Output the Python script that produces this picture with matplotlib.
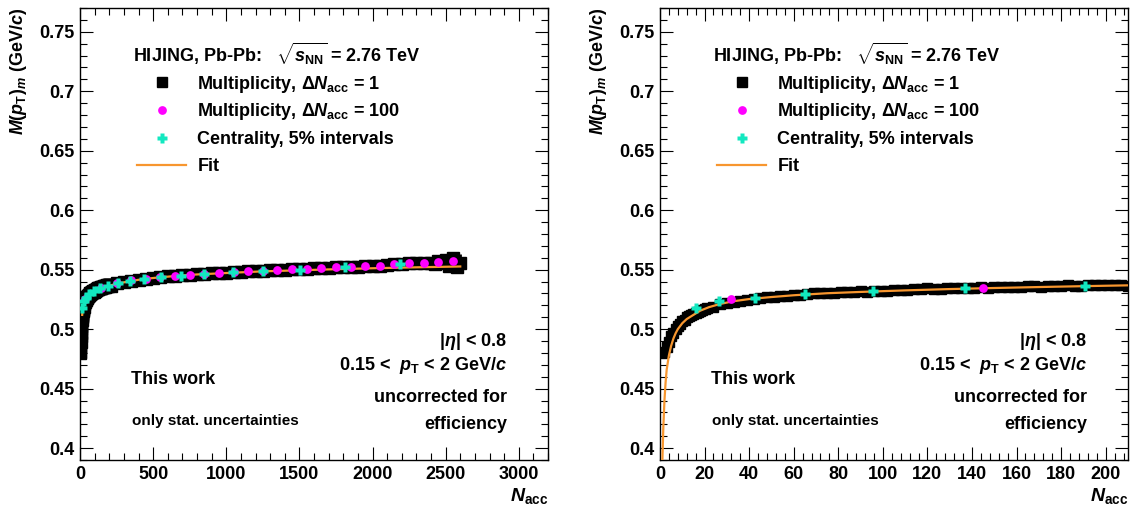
import numpy as np
import matplotlib
matplotlib.use("Agg")
import matplotlib.pyplot as plt
from matplotlib.ticker import MultipleLocator

plt.rcParams['font.family'] = ['Liberation Sans', 'DejaVu Sans']
plt.rcParams['font.weight'] = 'bold'
plt.rcParams['axes.labelweight'] = 'bold'
plt.rcParams['mathtext.fontset'] = 'custom'
plt.rcParams['mathtext.rm'] = 'Liberation Sans:bold'
plt.rcParams['mathtext.it'] = 'Liberation Sans:bold:italic'
plt.rcParams['mathtext.bf'] = 'Liberation Sans:bold'
plt.rcParams['mathtext.sf'] = 'Liberation Sans:bold'

# multiplicity classes, dN_acc = 1 (low N_acc, dense)
black_n = [1, 2, 3, 4, 5, 6, 7, 8, 9, 10, 11, 12, 13, 14, 15, 16, 17, 18, 19, 20,
           21, 24, 27, 30, 33, 36, 39, 42, 45, 48, 51, 54, 57, 60, 63, 66, 69, 72,
           75, 78, 81, 84, 87, 90, 93, 96, 99, 102, 105, 108, 111, 114, 117, 120,
           123, 126, 129, 132, 135, 138, 141, 144, 147, 150, 153, 156, 159, 162,
           165, 168, 171, 174, 177, 180, 183, 186, 189, 192, 195, 198, 201, 204,
           207, 210]
black_v = [0.480, 0.481, 0.485, 0.489, 0.494, 0.497, 0.500, 0.503, 0.504, 0.507,
           0.508, 0.510, 0.511, 0.512, 0.5125, 0.514, 0.5148, 0.5155, 0.516, 0.5168,
           0.5175, 0.519, 0.5212, 0.522, 0.5228, 0.5238, 0.5244, 0.525, 0.5262, 0.5268,
           0.527, 0.5276, 0.5282, 0.5283, 0.529, 0.5292, 0.5302, 0.5305, 0.5302, 0.5308,
           0.531, 0.5314, 0.5313, 0.5318, 0.5316, 0.5322, 0.5325, 0.5322, 0.5328, 0.533,
           0.5328, 0.5335, 0.5336, 0.5342, 0.5338, 0.534, 0.5345, 0.5343, 0.5342, 0.535,
           0.5346, 0.5352, 0.5348, 0.5355, 0.5353, 0.5356, 0.5358, 0.5356, 0.536, 0.5362,
           0.5358, 0.5364, 0.5366, 0.5362, 0.5368, 0.5366, 0.5365, 0.537, 0.5372, 0.5368,
           0.5374, 0.5372, 0.537, 0.5366]

# multiplicity classes, dN_acc = 1 (high N_acc, with stat. errors)
tail_n = [250, 300, 350, 400, 450, 500, 550, 600, 650, 700, 750, 800, 850, 900,
          950, 1000, 1050, 1100, 1150, 1200, 1250, 1300, 1350, 1400, 1450, 1500,
          1550, 1600, 1650, 1700, 1750, 1800, 1850, 1900, 1950, 2000, 2050, 2100,
          2150, 2200, 2250, 2300, 2350, 2400, 2425, 2450, 2475, 2500, 2525, 2550,
          2575, 2600]
tail_v = [0.5385, 0.5398, 0.5408, 0.5416, 0.5422, 0.543, 0.5436, 0.5443, 0.5448,
          0.5452, 0.5456, 0.546, 0.5465, 0.5468, 0.5472, 0.5475, 0.5479, 0.5482,
          0.5486, 0.5489, 0.5492, 0.5496, 0.5499, 0.5501, 0.5503, 0.5505, 0.5507,
          0.551, 0.5513, 0.5517, 0.552, 0.552, 0.5522, 0.5525, 0.5528, 0.5531,
          0.5534, 0.554, 0.5545, 0.555, 0.5552, 0.5556, 0.5558, 0.556, 0.5548,
          0.5575, 0.5555, 0.5585, 0.553, 0.5595, 0.5525, 0.556]
tail_err = [0.001, 0.001, 0.001, 0.001, 0.001, 0.001, 0.001, 0.001, 0.001, 0.001,
            0.001, 0.001, 0.001, 0.001, 0.001, 0.001, 0.001, 0.001, 0.001, 0.001,
            0.001, 0.001, 0.001, 0.001, 0.001, 0.001, 0.0015, 0.0015, 0.0015, 0.0015,
            0.0015, 0.0015, 0.0015, 0.0015, 0.0015, 0.0015, 0.002, 0.002, 0.002, 0.002,
            0.002, 0.0025, 0.0025, 0.003, 0.003, 0.0035, 0.0035, 0.004, 0.004, 0.005,
            0.005, 0.007]

# multiplicity classes, dN_acc = 100
mult100_n = [32, 145, 250, 350, 450, 550, 650, 750, 850, 950, 1050, 1150, 1250,
             1350, 1450, 1550, 1650, 1750, 1850, 1950, 2050, 2150, 2250, 2350,
             2450, 2550]
mult100_v = [0.5256, 0.5348, 0.5388, 0.541, 0.5422, 0.5438, 0.545, 0.5455, 0.5464,
             0.5472, 0.5478, 0.5486, 0.5492, 0.55, 0.5503, 0.5506, 0.5512, 0.552,
             0.552, 0.5528, 0.5534, 0.5547, 0.5553, 0.5559, 0.5564, 0.557]

# centrality classes, 5% intervals
cent_n = [16.1, 26.4, 42.5, 64.9, 95.8, 137.0, 190.7, 262, 340, 441, 552, 694,
          849, 1045, 1251, 1503, 1810, 2190]
cent_v = [0.518, 0.5236, 0.5261, 0.5297, 0.532, 0.5344, 0.5367, 0.539, 0.5405,
          0.5425, 0.5438, 0.545, 0.5464, 0.5478, 0.5486, 0.550, 0.552, 0.5548]

# fit curve
fit_n = [1.0, 1.5, 2.0, 2.5, 3.0, 4.0, 5.0, 6.0, 7.0, 8.0, 10, 12, 15, 18, 22, 27,
         33, 40, 50, 60, 75, 90, 110, 130, 150, 175, 200, 230, 270, 320, 400, 500,
         650, 800, 1000, 1250, 1500, 1750, 2000, 2300, 2600]
fit_v = [0.385, 0.418, 0.440, 0.455, 0.466, 0.478, 0.486, 0.492, 0.4965, 0.500,
         0.505, 0.5085, 0.512, 0.5155, 0.5185, 0.5212, 0.5235, 0.5253, 0.527,
         0.5285, 0.5302, 0.5313, 0.5326, 0.5337, 0.5346, 0.5356, 0.5365, 0.5375,
         0.5387, 0.5398, 0.5415, 0.543, 0.5447, 0.546, 0.5472, 0.5486, 0.5495,
         0.5504, 0.5512, 0.552, 0.5527]

FIT_COLOR = '#f7962f'
MAG_COLOR = '#ff00ff'
CYAN_COLOR = '#12e8c0'


def draw_panel(ax, xmax, xmajor, xminor, sq_size, fit_min):
    ax.plot(black_n, black_v, ls='none', marker='s', ms=sq_size, color='black', zorder=2)
    ax.errorbar(tail_n, tail_v, yerr=tail_err, ls='none', marker='s', ms=sq_size,
                color='black', elinewidth=2, capsize=0, zorder=2)
    fn = np.array(fit_n)
    fv = np.array(fit_v)
    keep = fn >= fit_min
    ax.plot(fn[keep], fv[keep], color=FIT_COLOR, lw=1.6, zorder=3)
    ax.plot(mult100_n, mult100_v, ls='none', marker='o', ms=6.3, color=MAG_COLOR,
            mec='none', zorder=4)
    ax.plot(cent_n, cent_v, ls='none', marker='P', ms=6.5, color=CYAN_COLOR,
            mec='none', zorder=5)

    ax.set_xlim(0, xmax)
    ax.set_ylim(0.39, 0.77)
    ax.xaxis.set_major_locator(MultipleLocator(xmajor))
    ax.xaxis.set_minor_locator(MultipleLocator(xminor))
    ax.yaxis.set_major_locator(MultipleLocator(0.05))
    ax.yaxis.set_minor_locator(MultipleLocator(0.01))
    ax.yaxis.set_major_formatter(plt.FuncFormatter(lambda v, p: ('%g' % round(v, 3))))
    ax.tick_params(which='both', direction='in', top=True, right=True, width=0.8,
                   labelsize=13, pad=4)
    ax.tick_params(which='major', length=9.5)
    ax.tick_params(which='minor', length=5)
    for s in ax.spines.values():
        s.set_linewidth(1.0)

    ax.set_ylabel(r'$M(p_{\rm T})_{m}$ (GeV/$c$)', fontsize=13, fontweight='bold',
                  loc='top')
    ax.yaxis.set_label_coords(-0.109, 1.0)
    ax.set_xlabel(r'$N_{\rm acc}$', fontsize=14, loc='right')
    ax.xaxis.set_label_coords(1.0, -0.058)

    t = ax.transAxes
    ax.text(0.1125, 0.880, r'HIJING, Pb-Pb:   $\sqrt{s_{\rm NN}}$ = 2.76 TeV',
            transform=t, fontsize=13, va='baseline')
    # legend entries
    ax.plot([0.1745], [0.836], transform=t, marker='s', ms=6.5, color='black', clip_on=False)
    ax.text(0.251, 0.821, r'Multiplicity, $\Delta N_{\rm acc}$ = 1', transform=t,
            fontsize=13, va='baseline')
    ax.plot([0.1745], [0.775], transform=t, marker='o', ms=6.3, color=MAG_COLOR,
            mec='none', clip_on=False)
    ax.text(0.251, 0.760, r'Multiplicity, $\Delta N_{\rm acc}$ = 100', transform=t,
            fontsize=13, va='baseline')
    ax.plot([0.1745], [0.713], transform=t, marker='P', ms=6.5, color=CYAN_COLOR,
            mec='none', clip_on=False)
    ax.text(0.251, 0.700, 'Centrality, 5% intervals', transform=t,
            fontsize=13, va='baseline')
    ax.plot([0.122, 0.227], [0.652, 0.652], transform=t, color=FIT_COLOR, lw=1.6,
            clip_on=False)
    ax.text(0.251, 0.639, 'Fit', transform=t, fontsize=13, va='baseline')

    ax.text(0.913, 0.2515, r'$|\eta|$ < 0.8', transform=t, fontsize=13,
            ha='right', va='baseline')
    ax.text(0.913, 0.1985, r'0.15 <  $p_{\rm T}$ < 2 GeV/$c$', transform=t,
            fontsize=13, ha='right', va='baseline')
    ax.text(0.913, 0.128, 'uncorrected for', transform=t, fontsize=13,
            ha='right', va='baseline')
    ax.text(0.913, 0.0676, 'efficiency', transform=t, fontsize=13,
            ha='right', va='baseline')
    ax.text(0.109, 0.169, 'This work', transform=t, fontsize=13, va='baseline')
    ax.text(0.111, 0.0765, 'only stat. uncertainties', transform=t, fontsize=11,
            va='baseline')


fig = plt.figure(figsize=(11.32, 5.12), dpi=100)
ax1 = fig.add_axes([80 / 1132, 52 / 512, 468 / 1132, 452 / 512])
ax2 = fig.add_axes([660 / 1132, 52 / 512, 468 / 1132, 452 / 512])

draw_panel(ax1, 3200, 500, 100, 8.0, 15)
draw_panel(ax2, 210, 20, 4, 6.5, 1.0)

fig.savefig('out.png', dpi=100)
